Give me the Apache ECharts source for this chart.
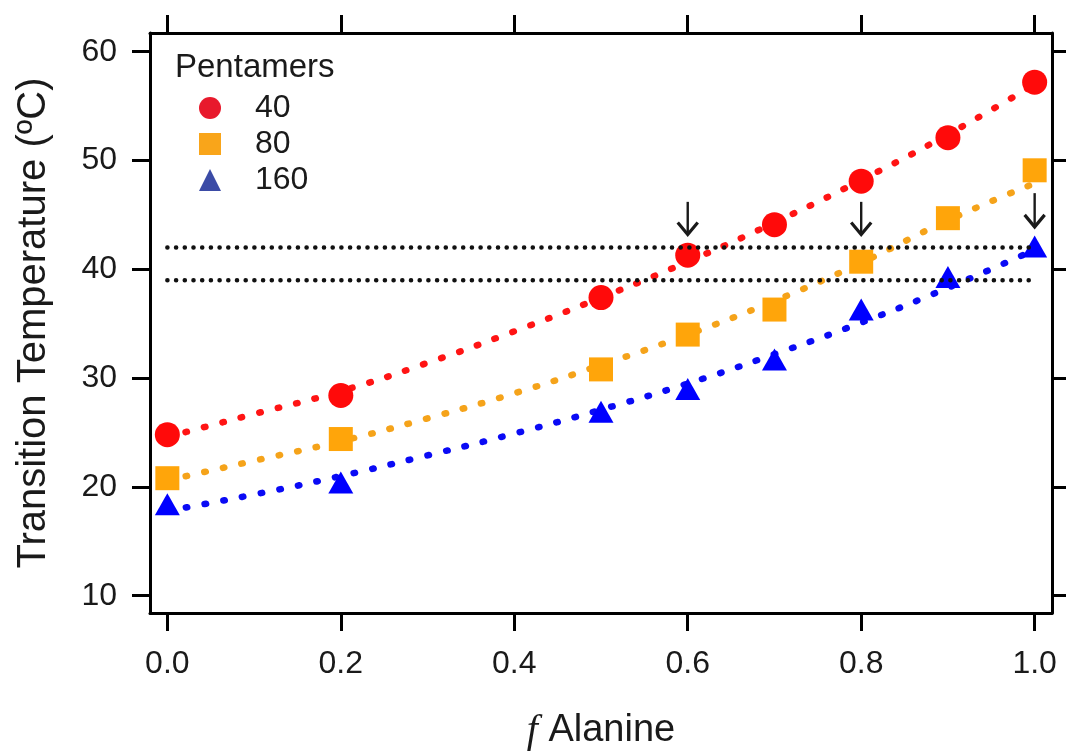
<!DOCTYPE html>
<html>
<head>
<meta charset="utf-8">
<script src="https://cdn.jsdelivr.net/npm/echarts@6/dist/echarts.min.js"></script>
<style>html,body{margin:0;padding:0;background:#fff;}#c{width:1066px;height:756px;}</style>
</head>
<body>
<div id="c"></div>
<script>
// ---- data ----
const xTicks = [0, 0.2, 0.4, 0.6, 0.8, 1.0];
const yTicks = [10, 20, 30, 40, 50, 60];
const fAlanine = [0, 0.2, 0.5, 0.6, 0.7, 0.8, 0.9, 1.0];
const tm40 = [24.8, 28.4, 37.4, 41.3, 44.1, 48.1, 52.1, 57.2];
const tm80 = [20.8, 24.4, 30.8, 34.0, 36.3, 40.7, 44.7, 49.1];
const tm160 = [18.4, 20.4, 26.9, 29.0, 31.7, 36.3, 39.3, 42.1];
const fitX = [0, 0.1, 0.2, 0.3, 0.4, 0.5, 0.6, 0.7, 0.8, 0.9, 1.0];
const fit40 = [24.6, 26.7, 28.8, 31.4, 34.3, 37.4, 40.7, 44.3, 48.2, 52.4, 57.0];
const fit80 = [20.6, 22.4, 24.2, 26.3, 28.6, 31.2, 34.0, 37.1, 40.6, 44.5, 47.9];
const fit160 = [17.8, 19.3, 21.0, 22.9, 24.9, 27.1, 29.5, 32.2, 35.1, 38.3, 41.8];
const refLevels = [42, 39];
const refRange = [0, 1.0];
const arrowX = [0.6, 0.8, 1.0];
const arrowTop = [46.2, 46.2, 47.0];
const arrowTip = [43.2, 43.2, 43.9];
const seriesNames = ['40', '80', '160'];

const pair = (xs, ys) => xs.map((x, i) => [x, ys[i]]);
const FONT = '"Liberation Sans", Arial, sans-serif';
const TXT = '#1a1a1a';

const axisLineStyle = { show: true, onZero: false, lineStyle: { color: '#000', width: 3 } };
const tickStyle = (vals) => ({ show: true, inside: false, length: 18, customValues: vals, lineStyle: { color: '#000', width: 3 } });

const fitStyle = (color) => ({ color: color, width: 6.5, type: [1.5, 17.5], cap: 'round' });

const option = {
  backgroundColor: '#fff',
  animation: false,
  textStyle: { fontFamily: FONT },
  title: {
    text: 'Pentamers', left: 170, top: 46,
    textStyle: { fontFamily: FONT, fontSize: 33, fontWeight: 'normal', color: TXT }
  },
  legend: {
    orient: 'vertical', left: 194, top: 87,
    itemWidth: 22, itemHeight: 22, itemGap: 4,
    textStyle: { fontFamily: FONT, fontSize: 32, color: TXT, padding: [0, 0, 0, 29] },
    data: [
      { name: seriesNames[0], icon: 'circle', itemStyle: { color: '#E8192C' } },
      { name: seriesNames[1], icon: 'rect', itemStyle: { color: '#F9A51A' } },
      { name: seriesNames[2], icon: 'triangle', itemStyle: { color: '#3B4BA6' } }
    ]
  },
  grid: { left: 150, top: 33, right: 14, bottom: 143, containLabel: false },
  xAxis: [
    {
      type: 'value', position: 'bottom', min: -0.02, max: 1.02,
      axisLine: axisLineStyle, axisTick: tickStyle(xTicks), splitLine: { show: false },
      axisLabel: { customValues: xTicks, formatter: v => v.toFixed(1), fontFamily: FONT, fontSize: 32, color: TXT, margin: 35 },
      name: '{f|f} Alanine', nameLocation: 'middle', nameGap: 98,
      nameTextStyle: {
        fontFamily: FONT, fontSize: 38, color: TXT,
        rich: { f: { fontFamily: '"Liberation Serif", serif', fontStyle: 'italic', fontSize: 40, color: TXT } }
      }
    },
    {
      type: 'value', position: 'top', min: -0.02, max: 1.02,
      axisLine: axisLineStyle, axisTick: tickStyle(xTicks), splitLine: { show: false },
      axisLabel: { show: false }
    }
  ],
  yAxis: [
    {
      type: 'value', position: 'left', min: 8.41, max: 61.72,
      axisLine: axisLineStyle, axisTick: tickStyle(yTicks), splitLine: { show: false },
      axisLabel: { customValues: yTicks, fontFamily: FONT, fontSize: 32, color: TXT, margin: 33 },
      name: 'Transition Temperature (ºC)', nameLocation: 'middle', nameGap: 96,
      nameTextStyle: { fontFamily: FONT, fontSize: 40, color: TXT }
    },
    {
      type: 'value', position: 'right', min: 8.41, max: 61.72,
      axisLine: axisLineStyle, axisTick: tickStyle(yTicks), splitLine: { show: false },
      axisLabel: { show: false }
    }
  ],
  series: [
    { name: 'fit40', type: 'line', data: pair(fitX, fit40), smooth: true, showSymbol: false, silent: true, lineStyle: fitStyle('#FF1414'), z: 1 },
    { name: 'fit80', type: 'line', data: pair(fitX, fit80), smooth: true, showSymbol: false, silent: true, lineStyle: fitStyle('#F5A31A'), z: 1 },
    { name: 'fit160', type: 'line', data: pair(fitX, fit160), smooth: true, showSymbol: false, silent: true, lineStyle: fitStyle('#0A0AF5'), z: 1 },
    { name: seriesNames[0], type: 'scatter', symbol: 'circle', symbolSize: 25, data: pair(fAlanine, tm40), itemStyle: { color: '#FF0A0A', opacity: 1 }, z: 3 },
    { name: seriesNames[1], type: 'scatter', symbol: 'rect', symbolSize: 24, data: pair(fAlanine, tm80), itemStyle: { color: '#FFA50A', opacity: 1 }, z: 3 },
    { name: seriesNames[2], type: 'scatter', symbol: 'triangle', symbolSize: [25, 22], data: pair(fAlanine, tm160), itemStyle: { color: '#0000FF', opacity: 1 }, z: 3 },
    ...refLevels.map((lv, i) => ({
      name: 'ref' + i, type: 'line', data: refRange.map(x => [x, lv]), showSymbol: false, silent: true, z: 5,
      lineStyle: { color: '#111', width: 4.5, type: [0.1, 8.6], cap: 'round' }
    })),
    {
      name: 'arrows', type: 'custom', silent: true, z: 6,
      data: arrowX.map((x, i) => [x, arrowTop[i], arrowTip[i]]),
      encode: { x: 0, y: [1, 2] },
      renderItem: function (params, api) {
        const x = api.value(0);
        const p1 = api.coord([x, api.value(1)]);
        const p2 = api.coord([x, api.value(2)]);
        return {
          type: 'group',
          children: [
            { type: 'line', shape: { x1: p1[0], y1: p1[1], x2: p2[0], y2: p2[1] - 1 }, style: { stroke: '#1a1a1a', lineWidth: 2.4 } },
            { type: 'polyline', shape: { points: [[p2[0] - 10, p2[1] - 12], [p2[0], p2[1]], [p2[0] + 10, p2[1] - 12]] }, style: { stroke: '#1a1a1a', lineWidth: 3.2, fill: null } }
          ]
        };
      }
    }
  ]
};

const chart = echarts.init(document.getElementById('c'), null, { renderer: 'canvas' });
chart.setOption(option);
</script>
</body>
</html>
